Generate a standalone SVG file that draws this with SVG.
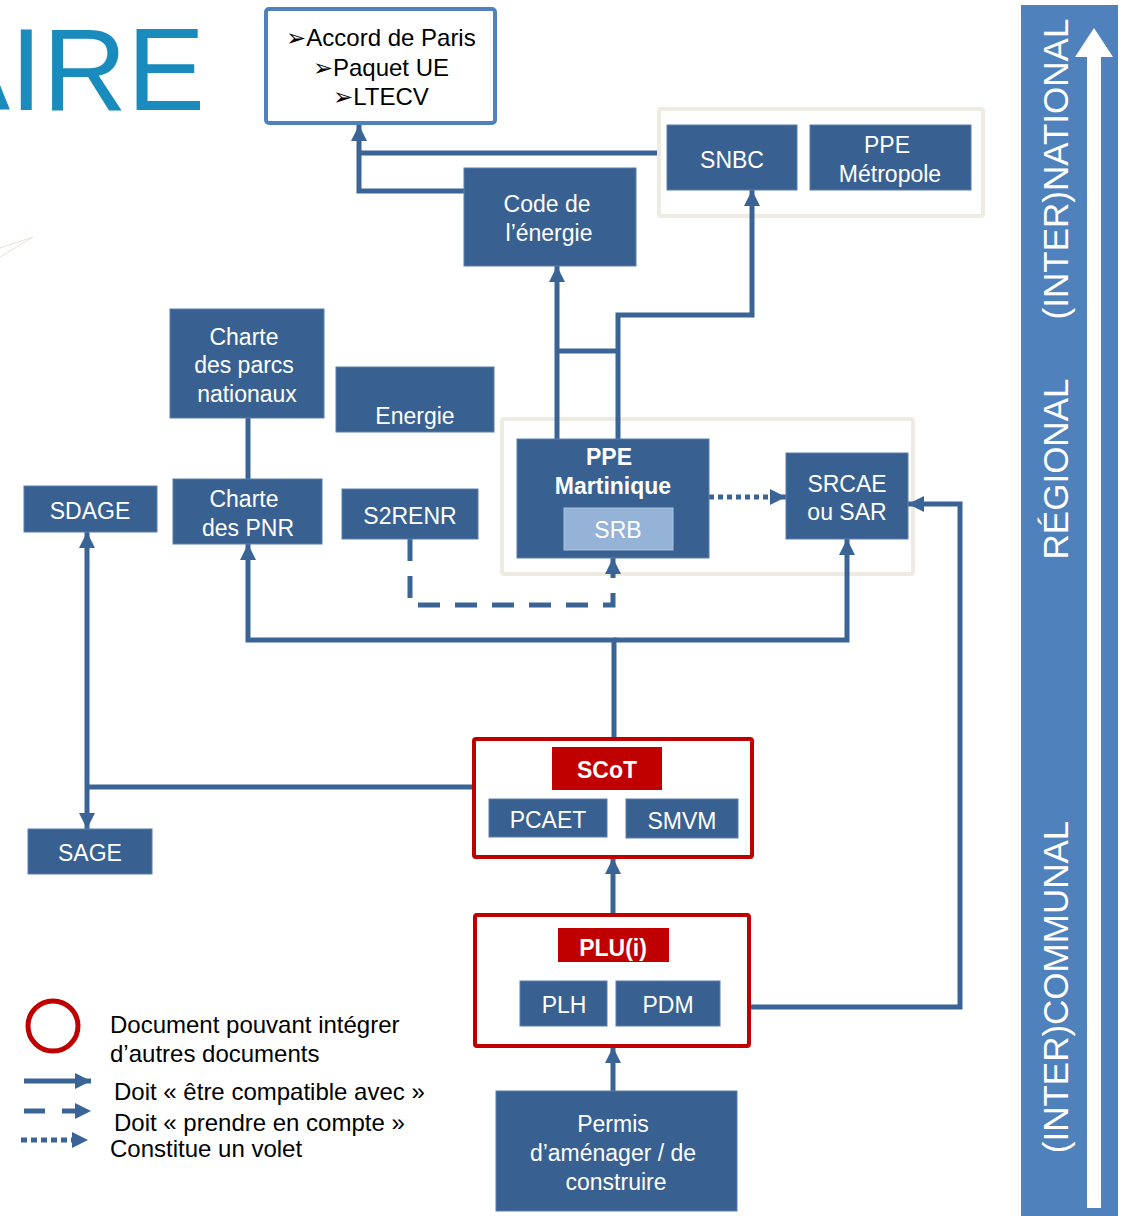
<svg xmlns="http://www.w3.org/2000/svg" width="1124" height="1216" viewBox="0 0 1124 1216">
<style>
.node{fill:#386192;stroke:#5a7fae;stroke-width:1}
.nt{font-family:"Liberation Sans",Arial,sans-serif;font-size:23px;fill:#ffffff;text-anchor:middle}
.bt{font-family:"Liberation Sans",Arial,sans-serif;font-size:23px;fill:#ffffff;text-anchor:middle;font-weight:bold}
.lg{font-family:"Liberation Sans",Arial,sans-serif;font-size:24px;fill:#000000}
.cn{fill:none;stroke:#3a6496;stroke-width:5}
.arr{marker-end:url(#ah)}
.redbox{fill:#ffffff;stroke:#c00000;stroke-width:4}
.redlab{fill:#c00000}
.beige{fill:#ffffff;stroke:#eeebe1;stroke-width:4}
.vt{font-family:"Liberation Sans",Arial,sans-serif;font-size:35px;fill:#ffffff;text-anchor:middle}
</style>
<defs>
<marker id="ah" viewBox="0 0 16 16" refX="16" refY="8" markerWidth="16" markerHeight="16" markerUnits="userSpaceOnUse" orient="auto">
<path d="M0,0 L16,8 L0,16 z" fill="#3a6496"/>
</marker>
</defs>
<rect width="1124" height="1216" fill="#ffffff"/>

<!-- title fragment -->
<text x="205" y="110" font-family="'Liberation Sans',Arial,sans-serif" font-size="117" fill="#1a8bbd" text-anchor="end">AIRE</text>
<path d="M0,248 L33,237 L0,257" fill="none" stroke="#e6e1d3" stroke-width="1"/>

<!-- right scale bar -->
<g id="scale">
<rect x="1021" y="5" width="97" height="1211" fill="#4f81bd"/>
<path d="M1087,1208 V57 H1075 L1094,28 L1113,57 H1101 V1208 Z" fill="#ffffff"/>
<text class="vt" transform="translate(1068,169) rotate(-90)">(INTER)NATIONAL</text>
<text class="vt" transform="translate(1068,469) rotate(-90)">RÉGIONAL</text>
<text class="vt" transform="translate(1068,987) rotate(-90)">(INTER)COMMUNAL</text>
</g>

<!-- containers -->
<g id="container-national">
<rect class="beige" x="659" y="109" width="324" height="107" rx="2"/>
</g>
<g id="container-regional">
<rect class="beige" x="502" y="419" width="411" height="155" rx="2"/>
</g>

<!-- connectors -->
<g id="connectors">
<path class="cn arr" d="M464,191 H359 V125"/>
<path class="cn" d="M657,153 H359"/>
<path class="cn arr" d="M557,439 V266"/>
<path class="cn arr" d="M618,439 V315 H752 V190"/>
<path class="cn" d="M557,351 H618"/>
<path class="cn arr" d="M709,497 H786" stroke-dasharray="5 4"/>
<path class="cn arr" d="M410,539 V605 H613 V558" stroke-dasharray="22 15"/>
<path class="cn arr" d="M614,737 V640 H248 V544"/>
<path class="cn arr" d="M614,640 H847 V539"/>
<path class="cn" d="M472,787 H87"/>
<path class="cn arr" d="M87,787 V532"/>
<path class="cn arr" d="M87,787 V829"/>
<path class="cn arr" d="M613,913 V858"/>
<path class="cn arr" d="M613,1091 V1047"/>
<path class="cn arr" d="M720,1007 H960 V504 H908"/>
<path class="cn" d="M248,418 V480"/>
</g>

<!-- top box -->
<g id="node-accords">
<rect x="266" y="9" width="229" height="114" rx="3" fill="#ffffff" stroke="#4f81bd" stroke-width="4"/>
<text class="lg" x="381" y="46" text-anchor="middle" font-size="23.5">➢Accord de Paris</text>
<text class="lg" x="381" y="76" text-anchor="middle" font-size="23.5">➢Paquet UE</text>
<text class="lg" x="381" y="105" text-anchor="middle" font-size="23.5">➢LTECV</text>
</g>

<g id="node-code-energie">
<rect class="node" x="464" y="168" width="172" height="98"/>
<text class="nt" x="547" y="212">Code de</text>
<text class="nt" x="549" y="241">l’énergie</text>
</g>

<g id="node-snbc">
<rect class="node" x="667" y="125" width="130" height="65"/>
<text class="nt" x="732" y="168">SNBC</text>
</g>
<g id="node-ppe-metropole">
<rect class="node" x="810" y="125" width="161" height="65"/>
<text class="nt" x="887" y="153">PPE</text>
<text class="nt" x="890" y="182">Métropole</text>
</g>

<g id="node-charte-parcs">
<rect class="node" x="170" y="309" width="154" height="109"/>
<text class="nt" x="244" y="345">Charte</text>
<text class="nt" x="244" y="373">des parcs</text>
<text class="nt" x="247" y="402">nationaux</text>
</g>

<g id="node-energie">
<rect class="node" x="336" y="367" width="158" height="65"/>
<text class="nt" x="415" y="424">Energie</text>
</g>

<g id="node-sdage">
<rect class="node" x="24" y="486" width="133" height="46"/>
<text class="nt" x="90" y="519">SDAGE</text>
</g>

<g id="node-charte-pnr">
<rect class="node" x="173" y="479" width="149" height="65"/>
<text class="nt" x="244" y="507">Charte</text>
<text class="nt" x="248" y="536">des PNR</text>
</g>

<g id="node-s2renr">
<rect class="node" x="342" y="489" width="136" height="50"/>
<text class="nt" x="410" y="524">S2RENR</text>
</g>

<g id="node-ppe-martinique">
<rect class="node" x="517" y="439" width="192" height="119"/>
<text class="bt" x="609" y="465">PPE</text>
<text class="bt" x="613" y="494">Martinique</text>
<rect x="564" y="508" width="109" height="42" fill="#95b3d7" stroke="#a9c2e0" stroke-width="1"/>
<text class="nt" x="618" y="538">SRB</text>
</g>

<g id="node-srcae">
<rect class="node" x="786" y="453" width="122" height="86"/>
<text class="nt" x="847" y="492">SRCAE</text>
<text class="nt" x="847" y="520">ou SAR</text>
</g>

<g id="node-scot">
<rect class="redbox" x="474" y="739" width="278" height="118" rx="2"/>
<rect class="redlab" x="552" y="747" width="110" height="43"/>
<text class="bt" x="607" y="778">SCoT</text>
<rect class="node" x="489" y="799" width="118" height="38"/>
<text class="nt" x="548" y="828">PCAET</text>
<rect class="node" x="626" y="799" width="112" height="39"/>
<text class="nt" x="682" y="829">SMVM</text>
</g>

<g id="node-sage">
<rect class="node" x="28" y="829" width="124" height="45"/>
<text class="nt" x="90" y="861">SAGE</text>
</g>

<g id="node-plu">
<rect class="redbox" x="475" y="915" width="274" height="131" rx="2"/>
<rect class="redlab" x="558" y="928" width="111" height="34"/>
<text class="bt" x="613" y="956">PLU(i)</text>
<rect class="node" x="520" y="981" width="87" height="45"/>
<text class="nt" x="564" y="1013">PLH</text>
<rect class="node" x="616" y="981" width="104" height="45"/>
<text class="nt" x="668" y="1013">PDM</text>
</g>

<g id="node-permis">
<rect class="node" x="496" y="1091" width="241" height="120"/>
<text class="nt" x="613" y="1132">Permis</text>
<text class="nt" x="613" y="1161">d’aménager / de</text>
<text class="nt" x="616" y="1190">construire</text>
</g>

<!-- legend -->
<g id="legend">
<circle cx="53" cy="1026" r="25" fill="none" stroke="#c00000" stroke-width="5"/>
<text class="lg" x="110" y="1033">Document pouvant intégrer</text>
<text class="lg" x="110" y="1062">d’autres documents</text>
<path class="cn arr" d="M24,1081 H91"/>
<text class="lg" x="114" y="1100">Doit « être compatible avec »</text>
<path class="cn" d="M24,1111 H45 M62,1111 H76"/>
<path d="M75,1103 L91,1111 L75,1119 z" fill="#3a6496"/>
<text class="lg" x="114" y="1131">Doit « prendre en compte »</text>
<path class="cn" d="M21,1140 H72" stroke-dasharray="6 4"/>
<path d="M72,1132 L88,1140 L72,1148 z" fill="#3a6496"/>
<text class="lg" x="110" y="1157">Constitue un volet</text>
</g>
</svg>
